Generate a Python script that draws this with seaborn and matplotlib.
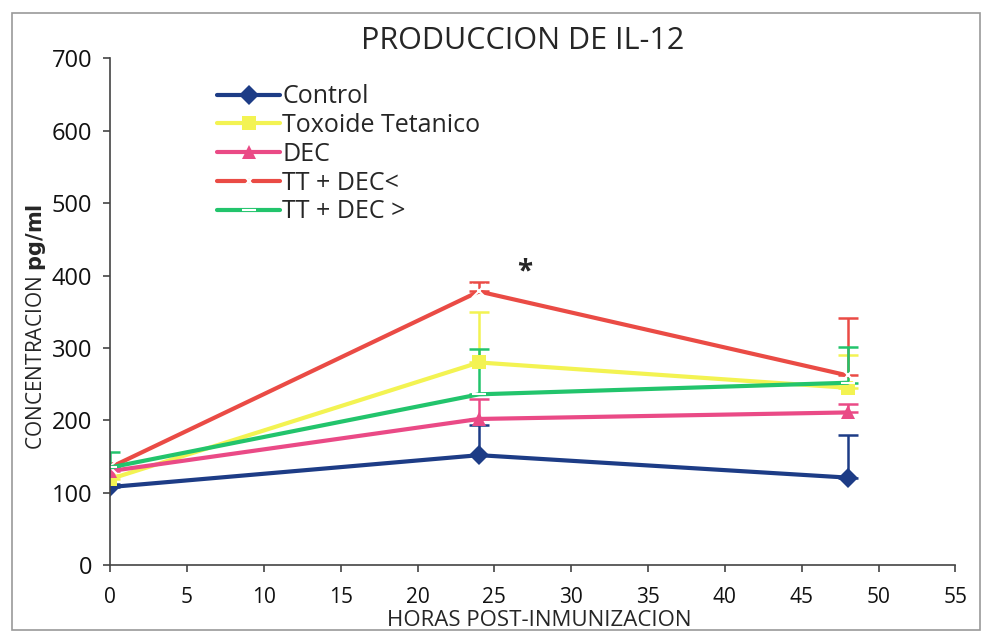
# IL-12 production after immunization
import pandas as pd
import matplotlib.pyplot as plt
import seaborn as sns

# data
horas = [0, 24, 48]
control = [108, 152, 121]
toxoide = [119, 280, 245]
dec = [130, 202, 211]
tt_dec_menor = [135, 378, 262]
tt_dec_mayor = [135, 236, 252]

err_control = [4, 42, 59]
err_toxoide = [6, 70, 45]
err_dec = [5, 28, 12]
err_tt_menor = [6, 13, 80]
err_tt_mayor = [22, 62, 50]

series = ["Control", "Toxoide Tetanico", "DEC", "TT + DEC<", "TT + DEC >"]
valores = [control, toxoide, dec, tt_dec_menor, tt_dec_mayor]
errores = [err_control, err_toxoide, err_dec, err_tt_menor, err_tt_mayor]

colores = {
    "Control": "#1d3c86",
    "Toxoide Tetanico": "#f3f352",
    "DEC": "#ea4a86",
    "TT + DEC<": "#ea4b45",
    "TT + DEC >": "#22c46c",
}
marcadores = {
    "Control": "D",
    "Toxoide Tetanico": "s",
    "DEC": "^",
    "TT + DEC<": "x",
    "TT + DEC >": "_",
}

sns.set_style("ticks")
plt.rcParams["font.family"] = ["Open Sans", "DejaVu Sans"]

fig = plt.figure(figsize=(9.83, 6.33), dpi=100)
ax = fig.add_axes([0.112, 0.107, 0.86, 0.801])

# error bars (upper only), drawn under the lines
for s, v, e in zip(series, valores, errores):
    ax.errorbar(horas, v, yerr=[[0] * len(e), e], fmt="none",
                ecolor=colores[s], elinewidth=1.8, capsize=7, capthick=1.8, zorder=1)

for s, v in zip(series, valores):
    df = pd.DataFrame({"horas": horas, "conc": v})
    lineart = marcadores[s] in ("x", "_")
    sns.lineplot(data=df, x="horas", y="conc", color=colores[s], label=s,
                 marker=marcadores[s], linewidth=3, markersize=10,
                 markeredgewidth=1.5 if lineart else 0,
                 markeredgecolor="white" if lineart else colores[s],
                 ax=ax, zorder=2)

ax.set_xlim(0, 55)
ax.set_ylim(0, 700)
ax.set_xticks(range(0, 56, 5))
ax.set_yticks(range(0, 701, 100))
ax.tick_params(axis="y", labelsize=17, length=5, width=1.2, colors="#444444", pad=8)
ax.tick_params(axis="x", labelsize=15, length=5, width=1.2, colors="#444444", pad=11)
ax.tick_params(axis="both", labelcolor="#111111")
for side in ["left", "bottom"]:
    ax.spines[side].set_color("#444444")
    ax.spines[side].set_linewidth(1.2)
sns.despine(ax=ax)

ax.set_xlabel("HORAS POST-INMUNIZACION", fontsize=16)
ax.xaxis.set_label_coords(0.508, -0.088)
ax.set_ylabel("CONCENTRACION $\\bf{pg/ml}$", fontsize=15)
ax.yaxis.set_label_coords(-0.074, 0.47)
fig.text(0.532, 0.935, "PRODUCCION DE IL-12", ha="center", va="center",
         fontsize=22, fontweight="medium")
ax.text(27, 405, "*", ha="center", va="center", fontsize=20, fontweight="bold")

leg = ax.legend(loc="upper left", bbox_to_anchor=(0.115, 0.968), frameon=False,
                fontsize=18, handlelength=2.5, handletextpad=0.1,
                labelspacing=0.15, borderaxespad=0)
for h in leg.legend_handles:
    h.set_linewidth(3)

# thin frame round the whole figure
fig.patches.append(plt.Rectangle((0.012, 0.005), 0.985, 0.975, transform=fig.transFigure,
                                 fill=False, edgecolor="#999999", linewidth=1.2))

fig.savefig("out.png", dpi=100)
